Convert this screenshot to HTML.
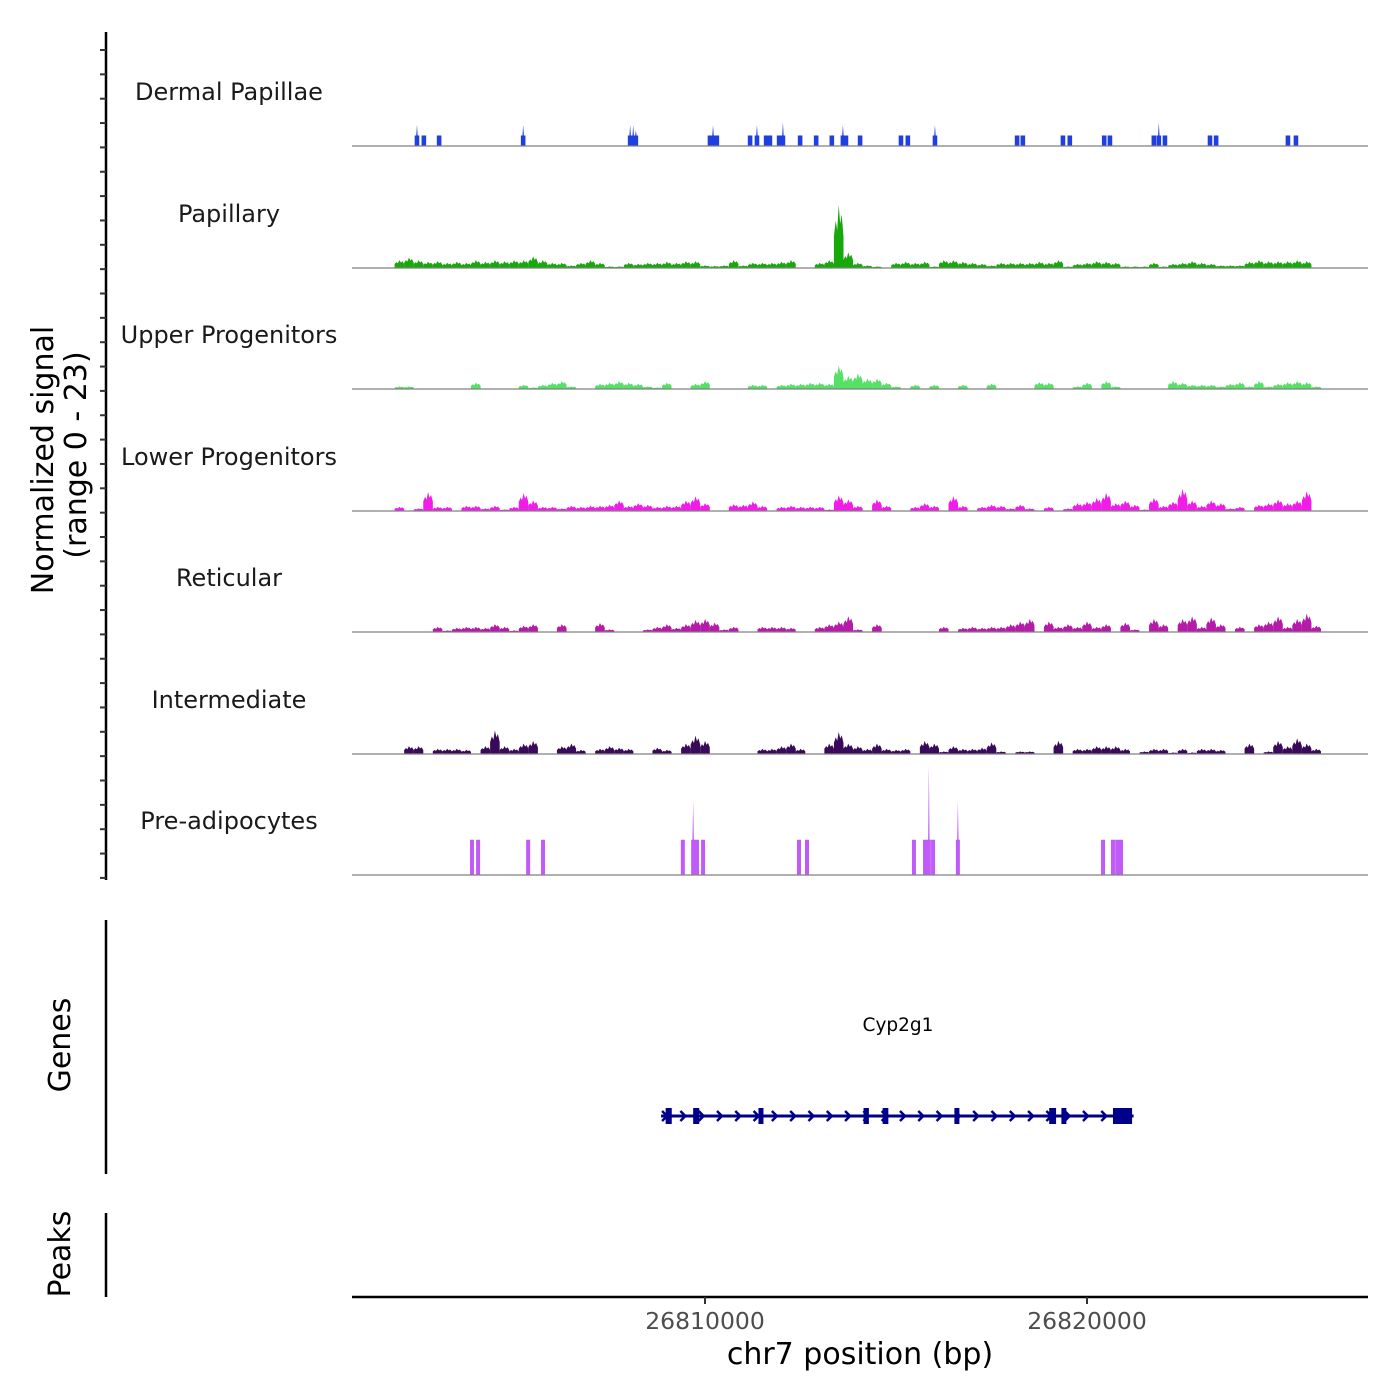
<!DOCTYPE html>
<html><head><meta charset="utf-8"><style>
html,body{margin:0;padding:0;background:#fff;}
svg{display:block;font-family:"DejaVu Sans","Liberation Sans",sans-serif;}
</style></head><body>
<svg id="chart" width="1400" height="1400" viewBox="0 0 1400 1400" xmlns="http://www.w3.org/2000/svg">
<g id="axes"></g>
<g id="tracks"></g>
<g id="genes"></g>
</svg>
<script>
// ---- data ----
const trackNames = ["Dermal Papillae","Papillary","Upper Progenitors","Lower Progenitors","Reticular","Intermediate","Pre-adipocytes"];
const trackColors = ["#1f3fe0","#17a80c","#55e066","#f01de8","#b61aa8","#3a0a5a","#c05af8"];
const xTicks = [26810000, 26820000];
const binStart = 26802000;
const binSize = 250;
const papillary = [1.5,2,1.5,1.2,1.3,1,1.2,1,1.5,1.2,1.5,1.3,1.5,1.5,2.2,1.5,1,1,0.5,1,1.5,1,0.3,0.3,1,0.8,1,1,1.2,1,1.3,1.3,0.5,0.4,0.5,1.5,0.5,1,1,1,1.2,1.5,0,0,1,1.5,12,3,1,0.5,0.3,0,1,1.2,1,1.2,0.3,1.5,1.5,1.2,1,0.8,0.5,1,1,1,1,1.2,1,1.5,0.3,0.8,1,1.3,1.2,1,0.3,0.3,0.3,1,0.3,0.8,1,1.3,1,0.8,0.5,0.5,0.5,1.2,1.5,1.3,1.3,1.3,1.5,1.3];
const upperProg = [0.5,0.5,0,0,0,0,0,0,1.2,0,0,0,0,0.8,0.3,0.8,1.2,1.5,0.5,0,0,1,1.2,1.5,1.2,1,0.5,0.3,1.2,0,0,1,1.5,0,0,0,0,0.8,0.8,0,0.8,1,1,1.2,1.2,1,4.5,2.5,3,2,2,1.2,0.5,0,0.8,0,0.8,0,0,0.8,0,0,1,0,0,0,0,1.3,1.2,0,0,0.5,1.2,0,1.5,0.5,0,0,0,0,0,1.5,1.2,0.8,0.8,0.8,0.5,1,1.3,0.5,1.5,0.5,1,1.3,1.5,1.3,0.5];
const lowerProg = [0.8,0,0.5,3.6,0.8,0.8,0,1,1,0.5,1,0.3,0.8,3.4,2,0.8,0.8,0.5,1,0.8,1,1,1.2,2,1,1.5,1.2,0.8,1,1,2,2.8,1.5,0,0,1.3,1.2,1.8,1,0,0.8,1,0.8,0.8,0.8,0.3,3,2.2,1,0,2.2,1,0,0,0.8,1.5,1,0,2.8,1,0,0.8,1.2,1,0.5,1.2,0.5,0,0.8,0,0.5,1.5,1.8,2.5,3.5,1.5,2,1.2,0.3,2.5,1,1.8,4.2,2,1,2,1.5,0.5,0.8,0,1.2,1.5,2.2,1.5,2,3.8];
const reticular = [0,0,0,0,1,0.3,0.8,1,1,0.8,1.5,1,0.3,1.2,1.5,0,0,1.5,0,0,0,1.7,0.5,0,0,0,0.5,1,1.5,0.8,1.5,2.3,2.5,1.8,0.5,1,0,0,1,1,1,0.8,0,0,1,1.5,2,3,0.5,0,1.5,0,0,0,0,0,0,1,0,0.8,1,0.8,1,1,1.5,2,2.5,0,2,1,1.5,1,2,1,1.5,0,1.8,0.5,0,2.5,1.5,0,2.5,3,1,2.8,1.5,0,1,0,1.5,2,3,1,2.5,3.5,1.2];
const intermediate = [0,1.5,1.5,0,1,1,1,0.8,0,1.5,4.5,1.5,1,2,2.5,0,0,1.5,2,0.8,0,1,1.5,1.2,1,0,0,1.2,0.8,0,2,3.5,2.5,0,0,0,0,0,1,1,1.5,2,1,0,0,2,4.2,2,1.5,1,2,1,0.8,1,0,2.5,2,0.5,1.5,1,1,1.2,2.2,0.5,0,0.5,0.5,0,0,2.5,0,1,1,1.5,1.5,1.5,1,0,0.5,1,1,0.3,1,0.3,1,1,0.8,0,0,2,0,0.5,2.5,1.5,3,2,1];
// sparse tracks: positions (bp) and values
const dermalPos = [26802460,26802640,26803040,26805240,26808040,26808120,26808190,26810130,26810210,26810310,26811180,26811360,26811600,26811700,26811940,26812040,26812490,26812910,26813320,26813610,26813690,26814060,26815130,26815310,26816020,26818170,26818320,26819370,26819550,26820450,26820600,26821750,26821880,26822040,26823220,26823380,26825260,26825470];
const dermalVal = [4,2,2,4,4,4,3,2,4,2,2,4,2,2,2,4.5,2,2,2,4,2,2,2,2,4,2,2,2,2,2,2,2,4.5,2,2,2,2,2];
const preadiPos = [26803900,26804060,26805370,26805760,26809420,26809690,26809790,26809950,26812460,26812670,26815470,26815760,26815860,26815970,26816620,26820420,26820680,26820790,26820890];
const preadiVal = [6.7,6.7,6.7,6.7,6.7,14,6.7,6.7,6.7,6.7,6.7,6.7,21,6.7,14,6.7,6.7,6.7,6.7];
const exonStart = [26808970,26809690,26811400,26814150,26814650,26816530,26819010,26819330,26820680];
const exonEnd   = [26809130,26809850,26811530,26814290,26814800,26816660,26819190,26819460,26821180];
const geneStart = 26808850, geneEnd = 26821220;

// ---- scales ----
const X0 = 352, X1 = 1368;
function xs(bp){ return 705 + (bp - 26810000) / 10000 * 382; }
const baselines = [146,268,389,511,632,754,875];
const PXU = 121/23;
function ys(t, v){ return baselines[t] - v*PXU; }

const NS = "http://www.w3.org/2000/svg";
function mk(tag, attrs, parent){ const e=document.createElementNS(NS,tag); for(const k in attrs) e.setAttribute(k, attrs[k]); parent.appendChild(e); return e; }

const axes = document.getElementById('axes');
const tracksG = document.getElementById('tracks');
const genesG = document.getElementById('genes');

let l = mk('line',{x1:106,y1:32,x2:106,y2:880,stroke:'#000','stroke-width':2.5},axes);


for(let y=50; y<=880; y+=24.35){
  const t = mk('line',{x1:100,y1:y,x2:106,y2:y,stroke:'#333','stroke-width':2},axes);
  
  
}
let yt = mk('text',{transform:'translate(53,460) rotate(-90)','text-anchor':'middle','font-size':30,fill:'#000'},axes);
yt.textContent = 'Normalized signal';


let yt2 = mk('text',{transform:'translate(86,455) rotate(-90)','text-anchor':'middle','font-size':30,fill:'#000'},axes);
yt2.textContent = '(range 0 - 23)';



let ga = mk('line',{x1:106,y1:920,x2:106,y2:1174,stroke:'#000','stroke-width':2.5},axes);


let gl = mk('text',{transform:'translate(70,1045) rotate(-90)','text-anchor':'middle','font-size':30,fill:'#000'},axes);
gl.textContent='Genes';


let pa = mk('line',{x1:106,y1:1213,x2:106,y2:1297,stroke:'#000','stroke-width':2.5},axes);


let pl = mk('text',{transform:'translate(70,1254) rotate(-90)','text-anchor':'middle','font-size':30,fill:'#000'},axes);
pl.textContent='Peaks';



let xa = mk('line',{x1:X0,y1:1297,x2:X1,y2:1297,stroke:'#000','stroke-width':2.5},axes);


xTicks.forEach(v=>{
  const tk = mk('line',{x1:xs(v),y1:1297,x2:xs(v),y2:1304,stroke:'#333','stroke-width':2},axes);
  
  
  const tl = mk('text',{x:xs(v),y:1329,'text-anchor':'middle','font-size':23.5,fill:'#4d4d4d'},axes);
  tl.textContent = String(v);
  
  
});
let xt = mk('text',{x:860,y:1364,'text-anchor':'middle','font-size':30,fill:'#000'},axes);
xt.textContent='chr7 position (bp)';



const labelY = [92,214,335,457,578,700,821];
trackNames.forEach((n,i)=>{
  const t = mk('text',{x:229,y:labelY[i]+8,'text-anchor':'middle','font-size':24,fill:'#1a1a1a'},tracksG);
  t.textContent = n;
  
  
});

function binTrack(ti, vals){
  const g = mk('g',{fill:trackColors[ti]},tracksG);
  
  
  const b = baselines[ti];
  vals.forEach((v,i)=>{
    if(v<=0) return;
    const c = xs(binStart + i*binSize);
    const h = b - ys(ti,v);
    const p = mk('polygon',{points:[[c-4.8,b],[c-4.8,b-h*0.5],[c-3,b-h*0.75],[c-1.5,b-h*0.6],[c,b-h],[c+1.5,b-h*0.7],[c+3,b-h*0.85],[c+4.8,b-h*0.5],[c+4.8,b]].map(p=>p.join(',')).join(' ')},g);
    
    
  });
}
function sparseTrack(ti, pos, vals, base, hw){
  const g = mk('g',{fill:trackColors[ti]},tracksG);
  
  
  const b = baselines[ti];
  pos.forEach((p,i)=>{
    const c = xs(p), v = vals[i];
    const yb = ys(ti, Math.min(v,base));
    const r = mk('polygon',{points:[[c-hw,b],[c-hw,yb],[c-0.7,yb],[c,ys(ti,v)],[c+0.7,yb],[c+hw,yb],[c+hw,b]].map(q=>q.join(',')).join(' ')},g);
    
    
  });
}
sparseTrack(0, dermalPos, dermalVal, 2, 2.3);
binTrack(1, papillary);
binTrack(2, upperProg);
binTrack(3, lowerProg);
binTrack(4, reticular);
binTrack(5, intermediate);
sparseTrack(6, preadiPos, preadiVal, 6.7, 2);

baselines.forEach(b=>{
  const bl = mk('line',{x1:X0,y1:b,x2:X1,y2:b,stroke:'#808080','stroke-width':1.2},tracksG);
  
  
});

const gy = 1116, col = '#00008b';
let gline = mk('line',{x1:xs(geneStart),y1:gy,x2:xs(geneEnd),y2:gy,stroke:col,'stroke-width':3},genesG);


for(let x=xs(geneStart)+1; x<xs(geneEnd)-8; x+=18.3){
  const a = mk('polyline',{points:`${x},${gy-5} ${x+5},${gy} ${x},${gy+5}`,fill:'none',stroke:col,'stroke-width':2.5},genesG);
  
  
}
exonStart.forEach((s,i)=>{
  const x1 = xs(s), x2 = xs(exonEnd[i]);
  const e = mk('rect',{x:x1,y:gy-8,width:Math.max(3,x2-x1),height:16,fill:col},genesG);
  
  
});
let gname = mk('text',{x:898,y:1031,'text-anchor':'middle','font-size':18.5,fill:'#000'},genesG);
gname.textContent='Cyp2g1';


</script>
</body></html>
